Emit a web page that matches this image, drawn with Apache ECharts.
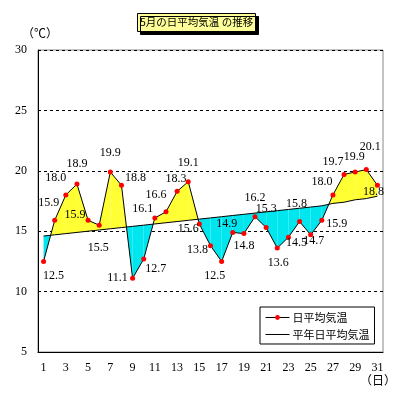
<!DOCTYPE html>
<html>
<head>
<meta charset="utf-8">
<script src="https://cdn.jsdelivr.net/npm/echarts@6/dist/echarts.min.js"></script>
<style>
  html, body { margin: 0; padding: 0; background: #fff; }
  #main { width: 399px; height: 400px; }
</style>
</head>
<body>
<div id="main"></div>
<script>
var days = [];
for (var d = 1; d <= 31; d++) days.push(String(d));

// 日平均気温
var dailyTemps = [12.5, 15.9, 18.0, 18.9, 15.9, 15.5, 19.9, 18.8, 11.1, 12.7,
  16.1, 16.6, 18.3, 19.1, 15.6, 13.8, 12.5, 14.9, 14.8, 16.2,
  15.3, 13.6, 14.5, 15.8, 14.7, 15.9, 18.0, 19.7, 19.9, 20.1, 18.8];
// 平年日平均気温
var normalTemps = [14.6, 14.7, 14.8, 14.9, 15.0, 15.1, 15.2, 15.3, 15.4, 15.5,
  15.6, 15.7, 15.8, 15.9, 16.0, 16.1, 16.2, 16.3, 16.4, 16.5,
  16.6, 16.7, 16.8, 16.9, 17.0, 17.1, 17.3, 17.4, 17.6, 17.7, 17.9];

// label offsets (px) from each point
var labelOffsets = [[10,14],[-6,-17],[-10,-17],[0,-20],[-13,-5],[-1,23],[0,-19],[14,-7],[-15,0],[12,10],
  [-12,-9],[-10,-17],[-1,-12],[0,-19],[-11,5],[-13,4],[-7,14],[-6,-9],[0,12],[0,-19],
  [0,-19],[1,15],[8,6],[-3,-18],[3,6],[15,4],[-11,-13],[-11,-13],[-1,-15],[4,-23],[-4,7]];

var numFont = 'Liberation Serif';
var jpFont = 'Noto Sans CJK JP';

var segData = [];
for (var i = 0; i < dailyTemps.length - 1; i++) {
  segData.push([i, dailyTemps[i], dailyTemps[i + 1], normalTemps[i], normalTemps[i + 1]]);
}

function renderSeg(params, api) {
  var i = api.value(0);
  var a0 = api.coord([i, api.value(1)]);
  var a1 = api.coord([i + 1, api.value(2)]);
  var b0 = api.coord([i, api.value(3)]);
  var b1 = api.coord([i + 1, api.value(4)]);
  var diff0 = api.value(1) - api.value(3);
  var diff1 = api.value(2) - api.value(4);
  var yellow = '#ffff33', cyan = '#00e6ee';
  var kids = [];
  if (diff0 * diff1 < 0) {
    var t = diff0 / (diff0 - diff1);
    var c = [a0[0] + (a1[0] - a0[0]) * t, a0[1] + (a1[1] - a0[1]) * t];
    kids.push({ type: 'polygon', shape: { points: [a0, c, b0] }, style: { fill: diff0 > 0 ? yellow : cyan } });
    kids.push({ type: 'polygon', shape: { points: [c, a1, b1] }, style: { fill: diff1 > 0 ? yellow : cyan } });
  } else {
    var up = (diff0 + diff1) > 0;
    kids.push({ type: 'polygon', shape: { points: [a0, a1, b1, b0] }, style: { fill: up ? yellow : cyan } });
  }
  return { type: 'group', children: kids };
}

var chart = echarts.init(document.getElementById('main'));
chart.setOption({
  animation: false,
  backgroundColor: '#fff',
  title: {
    text: '5月の日平均気温 の推移',
    left: 137,
    top: 13,
    padding: [4, 3],
    backgroundColor: '#ffff99',
    borderColor: '#000',
    borderWidth: 1,
    shadowColor: '#000',
    shadowBlur: 0,
    shadowOffsetX: 3,
    shadowOffsetY: 3,
    textStyle: { fontSize: 10.5, fontWeight: 'normal', color: '#000', fontFamily: jpFont }
  },
  graphic: [
    { type: 'text', left: 22, top: 27, style: { text: '（℃）', font: '12px "Noto Sans CJK JP"', fill: '#000' } },
    { type: 'text', left: 360, top: 374, style: { text: '（日）', font: '12px "Noto Sans CJK JP"', fill: '#000' } }
  ],
  legend: {
    data: [
      { name: '日平均気温', lineStyle: { width: 1 } },
      { name: '平年日平均気温', lineStyle: { width: 1 }, itemStyle: { color: 'rgba(0,0,0,0)', borderWidth: 0 } }
    ],
    orient: 'vertical',
    left: 260,
    top: 307,
    padding: [5, 5, 4, 5],
    itemGap: 6,
    itemWidth: 24,
    itemHeight: 6,
    backgroundColor: '#fff',
    borderColor: '#000',
    borderWidth: 1,
    borderRadius: 0,
    textStyle: { fontSize: 11, color: '#000', fontFamily: jpFont, padding: [0, 0, 0, -2] }
  },
  grid: {
    left: 38, right: 16, top: 50, bottom: 48,
    show: true, borderColor: '#888', borderWidth: 1, backgroundColor: 'transparent'
  },
  xAxis: {
    type: 'category',
    data: days,
    boundaryGap: true,
    axisLine: { lineStyle: { color: '#000', width: 1 } },
    axisTick: { inside: true, length: 3, interval: 0, lineStyle: { color: '#000' } },
    axisLabel: { interval: 1, color: '#000', fontSize: 12, fontFamily: numFont, margin: 10 },
    splitLine: { show: false }
  },
  yAxis: {
    type: 'value',
    min: 5, max: 30, interval: 5,
    axisLine: { show: true, lineStyle: { color: '#000', width: 1 } },
    axisTick: { show: false },
    axisLabel: { color: '#000', fontSize: 12, fontFamily: numFont, margin: 11 },
    splitLine: { lineStyle: { color: '#000', type: [3, 3], width: 1 } }
  },
  series: [
    {
      type: 'custom',
      name: 'fill',
      data: segData,
      renderItem: renderSeg,
      encode: { x: 0, y: [1, 2, 3, 4] },
      z: 1,
      silent: true
    },
    {
      type: 'line',
      name: '平年日平均気温',
      data: normalTemps,
      showSymbol: false,
      symbol: 'none',
      lineStyle: { color: '#000', width: 1 },
      itemStyle: { color: '#000' },
      z: 3
    },
    {
      type: 'line',
      name: '日平均気温',
      data: dailyTemps.map(function (v, k) {
        return { value: v, label: { offset: labelOffsets[k] } };
      }),
      symbol: 'circle',
      symbolSize: 5,
      lineStyle: { color: '#000', width: 1 },
      itemStyle: { color: '#ff0000', borderWidth: 0 },
      label: {
        show: true,
        position: 'inside',
        color: '#000',
        fontSize: 12,
        fontFamily: numFont,
        formatter: function (p) { return p.value.toFixed(1); }
      },
      z: 4
    }
  ]
});
</script>
</body>
</html>
